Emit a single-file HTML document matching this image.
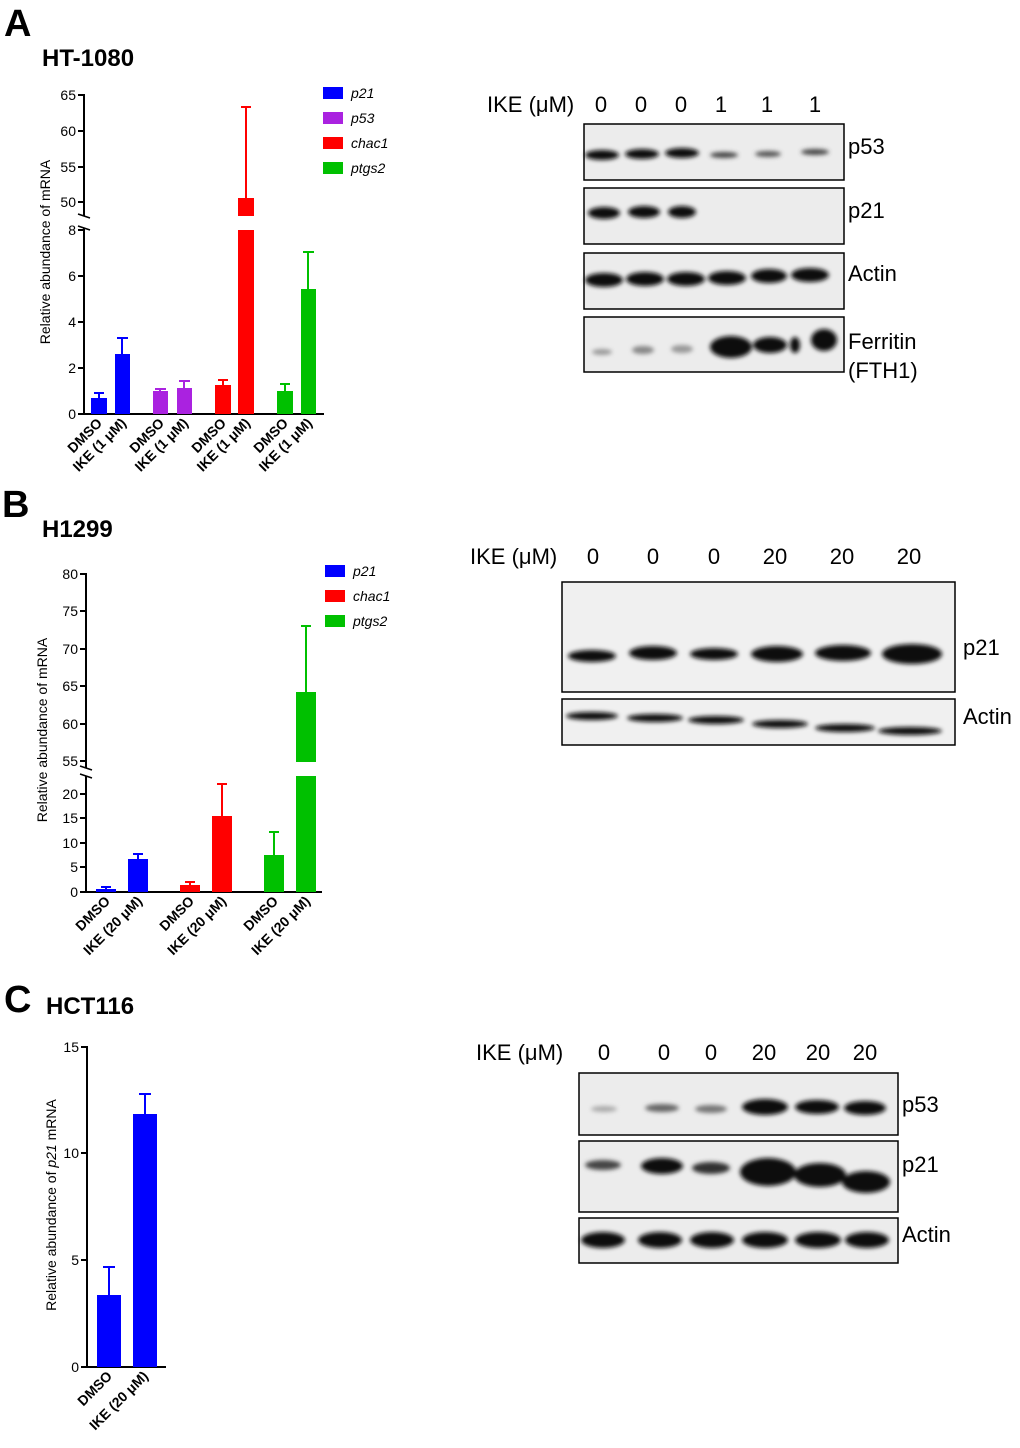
<!DOCTYPE html>
<html><head><meta charset="utf-8"><style>
body{margin:0;background:#fff}
svg{display:block;font-family:"Liberation Sans",Arial,sans-serif}
</style></head><body>
<svg width="1020" height="1448" viewBox="0 0 1020 1448" xmlns="http://www.w3.org/2000/svg">
<defs><filter id="b" x="-20%" y="-100%" width="140%" height="300%"><feGaussianBlur stdDeviation="2.2"/></filter></defs>
<g font-weight="bold" fill="#000">
<text x="4" y="36" font-size="38">A</text><text x="42" y="66" font-size="24">HT-1080</text>
<text x="2" y="517" font-size="38">B</text><text x="42" y="537" font-size="24">H1299</text>
<text x="4" y="1012" font-size="38">C</text><text x="46" y="1014" font-size="24">HCT116</text>
</g>

<!-- Panel A chart -->
<g stroke="#000" stroke-width="2" fill="none">
<path d="M84,94 V216 M84,228 V414 H324"/>
<path d="M78,95 H84 M78,131 H84 M78,167 H84 M78,202 H84 M78,230 H84 M78,276 H84 M78,322 H84 M78,368 H84 M78,414 H84"/>
<path d="M78,214 L90,218 M78,226 L90,230" stroke-width="1.5"/>
</g>
<g font-size="14" text-anchor="end">
<text x="76" y="100">65</text><text x="76" y="136">60</text><text x="76" y="172">55</text><text x="76" y="207">50</text>
<text x="76" y="235">8</text><text x="76" y="281">6</text><text x="76" y="327">4</text><text x="76" y="373">2</text><text x="76" y="419">0</text>
</g>
<text transform="translate(50,252) rotate(-90)" font-size="14" text-anchor="middle">Relative abundance of mRNA</text>
<g stroke-width="2">
<rect x="91" y="398" width="16" height="16" fill="#0000ff"/><path d="M99,398 V393 M94,393 H104" stroke="#0000ff"/>
<rect x="115" y="354" width="15" height="60" fill="#0000ff"/><path d="M122,354 V338 M117,338 H128" stroke="#0000ff"/>
<rect x="153" y="391" width="15" height="23" fill="#aa22e0"/><path d="M160,391 V389 M155,389 H166" stroke="#aa22e0"/>
<rect x="177" y="388" width="15" height="26" fill="#aa22e0"/><path d="M184,388 V381 M179,381 H190" stroke="#aa22e0"/>
<rect x="215" y="385" width="16" height="29" fill="#ff0000"/><path d="M223,385 V380 M218,380 H228" stroke="#ff0000"/>
<rect x="238" y="230" width="16" height="184" fill="#ff0000"/><rect x="238" y="198" width="16" height="18" fill="#ff0000"/><path d="M246,198 V107 M241,107 H251" stroke="#ff0000"/>
<rect x="277" y="391" width="16" height="23" fill="#00c000"/><path d="M285,391 V384 M280,384 H290" stroke="#00c000"/>
<rect x="301" y="289" width="15" height="125" fill="#00c000"/><path d="M308,289 V252 M303,252 H314" stroke="#00c000"/>
</g>
<g font-size="14" font-weight="600" text-anchor="end">
<text transform="translate(103,424) rotate(-45)">DMSO</text><text transform="translate(127,424) rotate(-45)">IKE (1 μM)</text>
<text transform="translate(165,424) rotate(-45)">DMSO</text><text transform="translate(189,424) rotate(-45)">IKE (1 μM)</text>
<text transform="translate(227,424) rotate(-45)">DMSO</text><text transform="translate(251,424) rotate(-45)">IKE (1 μM)</text>
<text transform="translate(289,424) rotate(-45)">DMSO</text><text transform="translate(313,424) rotate(-45)">IKE (1 μM)</text>
</g>
<g font-size="14" font-style="italic">
<rect x="323" y="87" width="20" height="12" fill="#0000ff"/><text x="351" y="98">p21</text>
<rect x="323" y="112" width="20" height="12" fill="#aa22e0"/><text x="351" y="123">p53</text>
<rect x="323" y="137" width="20" height="12" fill="#ff0000"/><text x="351" y="148">chac1</text>
<rect x="323" y="162" width="20" height="12" fill="#00c000"/><text x="351" y="173">ptgs2</text>
</g>

<!-- Blot A -->
<g font-size="22">
<text x="487" y="112">IKE (μM)</text>
<g text-anchor="middle"><text x="601" y="112">0</text><text x="641" y="112">0</text><text x="681" y="112">0</text><text x="721" y="112">1</text><text x="767" y="112">1</text><text x="815" y="112">1</text></g>
<text x="848" y="154">p53</text><text x="848" y="218">p21</text><text x="848" y="281">Actin</text><text x="848" y="349">Ferritin</text><text x="848" y="378">(FTH1)</text>
</g>
<g fill="#ececec" stroke="#000" stroke-width="1.5">
<rect x="584" y="124" width="260" height="56"/><rect x="584" y="188" width="260" height="56"/><rect x="584" y="253" width="260" height="56"/><rect x="584" y="317" width="260" height="55"/>
</g>
<g fill="#111" filter="url(#b)">
<ellipse cx="602" cy="155" rx="17" ry="5"/><ellipse cx="642" cy="154" rx="17" ry="5"/><ellipse cx="682" cy="153" rx="17" ry="5"/><ellipse cx="724" cy="155" rx="14" ry="3" fill="#444"/><ellipse cx="768" cy="154" rx="13" ry="3" fill="#555"/><ellipse cx="815" cy="152" rx="14" ry="3" fill="#444"/>
<ellipse cx="604" cy="213" rx="16" ry="6"/><ellipse cx="644" cy="212" rx="16" ry="6"/><ellipse cx="682" cy="212" rx="14" ry="6"/>
<ellipse cx="604" cy="280" rx="19" ry="7"/><ellipse cx="645" cy="279" rx="19" ry="7"/><ellipse cx="686" cy="279" rx="19" ry="7"/><ellipse cx="727" cy="278" rx="19" ry="7"/><ellipse cx="769" cy="276" rx="18" ry="7"/><ellipse cx="810" cy="275" rx="19" ry="7"/>
<ellipse cx="602" cy="352" rx="10" ry="3" fill="#999"/><ellipse cx="643" cy="350" rx="11" ry="4" fill="#888"/><ellipse cx="682" cy="349" rx="11" ry="4" fill="#999"/><ellipse cx="731" cy="347" rx="21" ry="11"/><ellipse cx="770" cy="345" rx="17" ry="8"/><ellipse cx="795" cy="345" rx="5" ry="8"/><ellipse cx="824" cy="340" rx="13" ry="11"/>
</g>

<!-- Panel B chart -->
<g stroke="#000" stroke-width="2" fill="none">
<path d="M86,573 V768 M86,776 V892 H322"/>
<path d="M80,574 H86 M80,611 H86 M80,649 H86 M80,686 H86 M80,724 H86 M80,761 H86 M80,794 H86 M80,818 H86 M80,843 H86 M80,867 H86 M80,892 H86"/>
<path d="M80,766 L92,770 M80,774 L92,778" stroke-width="1.5"/>
</g>
<g font-size="14" text-anchor="end">
<text x="78" y="579">80</text><text x="78" y="616">75</text><text x="78" y="654">70</text><text x="78" y="691">65</text><text x="78" y="729">60</text><text x="78" y="766">55</text>
<text x="78" y="799">20</text><text x="78" y="823">15</text><text x="78" y="848">10</text><text x="78" y="872">5</text><text x="78" y="897">0</text>
</g>
<text transform="translate(47,730) rotate(-90)" font-size="14" text-anchor="middle">Relative abundance of mRNA</text>
<g stroke-width="2">
<rect x="96" y="889" width="20" height="3" fill="#0000ff"/><path d="M106,889 V887 M101,887 H111" stroke="#0000ff"/>
<rect x="128" y="859" width="20" height="33" fill="#0000ff"/><path d="M138,859 V854 M133,854 H143" stroke="#0000ff"/>
<rect x="180" y="885" width="20" height="7" fill="#ff0000"/><path d="M190,885 V882 M185,882 H195" stroke="#ff0000"/>
<rect x="212" y="816" width="20" height="76" fill="#ff0000"/><path d="M222,816 V784 M217,784 H227" stroke="#ff0000"/>
<rect x="264" y="855" width="20" height="37" fill="#00c000"/><path d="M274,855 V832 M269,832 H279" stroke="#00c000"/>
<rect x="296" y="776" width="20" height="116" fill="#00c000"/><rect x="296" y="692" width="20" height="70" fill="#00c000"/><path d="M306,692 V626 M301,626 H311" stroke="#00c000"/>
</g>
<g font-size="14" font-weight="600" text-anchor="end">
<text transform="translate(111,902) rotate(-45)">DMSO</text><text transform="translate(143,902) rotate(-45)">IKE (20 μM)</text>
<text transform="translate(195,902) rotate(-45)">DMSO</text><text transform="translate(227,902) rotate(-45)">IKE (20 μM)</text>
<text transform="translate(279,902) rotate(-45)">DMSO</text><text transform="translate(311,902) rotate(-45)">IKE (20 μM)</text>
</g>
<g font-size="14" font-style="italic">
<rect x="325" y="565" width="20" height="12" fill="#0000ff"/><text x="353" y="576">p21</text>
<rect x="325" y="590" width="20" height="12" fill="#ff0000"/><text x="353" y="601">chac1</text>
<rect x="325" y="615" width="20" height="12" fill="#00c000"/><text x="353" y="626">ptgs2</text>
</g>

<!-- Blot B -->
<g font-size="22">
<text x="470" y="564">IKE (μM)</text>
<g text-anchor="middle"><text x="593" y="564">0</text><text x="653" y="564">0</text><text x="714" y="564">0</text><text x="775" y="564">20</text><text x="842" y="564">20</text><text x="909" y="564">20</text></g>
<text x="963" y="655">p21</text><text x="963" y="724">Actin</text>
</g>
<g fill="#f0f0f0" stroke="#000" stroke-width="1.5"><rect x="562" y="582" width="393" height="110"/><rect x="562" y="699" width="393" height="46"/></g>
<g fill="#111" filter="url(#b)">
<ellipse cx="592" cy="656" rx="24" ry="6"/><ellipse cx="653" cy="653" rx="24" ry="7"/><ellipse cx="714" cy="654" rx="24" ry="6"/><ellipse cx="777" cy="654" rx="26" ry="8"/><ellipse cx="843" cy="653" rx="28" ry="8"/><ellipse cx="912" cy="654" rx="30" ry="10"/>
<ellipse cx="592" cy="716" rx="26" ry="4"/><ellipse cx="655" cy="718" rx="28" ry="4"/><ellipse cx="716" cy="720" rx="28" ry="4"/><ellipse cx="780" cy="724" rx="28" ry="4"/><ellipse cx="845" cy="728" rx="30" ry="4"/><ellipse cx="910" cy="731" rx="32" ry="4"/>
</g>

<!-- Panel C chart -->
<g stroke="#000" stroke-width="2" fill="none">
<path d="M87,1046 V1367 H166"/>
<path d="M81,1047 H87 M81,1153 H87 M81,1260 H87 M81,1367 H87"/>
</g>
<g font-size="14" text-anchor="end">
<text x="79" y="1052">15</text><text x="79" y="1158">10</text><text x="79" y="1265">5</text><text x="79" y="1372">0</text>
</g>
<text transform="translate(56,1205) rotate(-90)" font-size="14" text-anchor="middle">Relative abundance of <tspan font-style="italic">p21</tspan> mRNA</text>
<g stroke-width="2">
<rect x="97" y="1295" width="24" height="72" fill="#0000ff"/><path d="M109,1295 V1267 M103,1267 H115" stroke="#0000ff"/>
<rect x="133" y="1114" width="24" height="253" fill="#0000ff"/><path d="M145,1114 V1094 M139,1094 H151" stroke="#0000ff"/>
</g>
<g font-size="14" font-weight="600" text-anchor="end">
<text transform="translate(113,1377) rotate(-45)">DMSO</text><text transform="translate(149,1377) rotate(-45)">IKE (20 μM)</text>
</g>

<!-- Blot C -->
<g font-size="22">
<text x="476" y="1060">IKE (μM)</text>
<g text-anchor="middle"><text x="604" y="1060">0</text><text x="664" y="1060">0</text><text x="711" y="1060">0</text><text x="764" y="1060">20</text><text x="818" y="1060">20</text><text x="865" y="1060">20</text></g>
<text x="902" y="1112">p53</text><text x="902" y="1172">p21</text><text x="902" y="1242">Actin</text>
</g>
<g fill="#ececec" stroke="#000" stroke-width="1.5"><rect x="579" y="1073" width="319" height="62"/><rect x="579" y="1141" width="319" height="71"/><rect x="579" y="1218" width="319" height="45"/></g>
<g fill="#111" filter="url(#b)">
<ellipse cx="604" cy="1109" rx="13" ry="3" fill="#aaa"/><ellipse cx="662" cy="1108" rx="17" ry="4" fill="#666"/><ellipse cx="711" cy="1109" rx="16" ry="4" fill="#777"/><ellipse cx="765" cy="1107" rx="23" ry="8"/><ellipse cx="817" cy="1107" rx="22" ry="7"/><ellipse cx="865" cy="1108" rx="21" ry="7"/>
<ellipse cx="603" cy="1165" rx="18" ry="5" fill="#444"/><ellipse cx="662" cy="1166" rx="21" ry="8"/><ellipse cx="711" cy="1168" rx="19" ry="6" fill="#333"/><ellipse cx="768" cy="1172" rx="28" ry="14"/><ellipse cx="820" cy="1175" rx="26" ry="12"/><ellipse cx="866" cy="1182" rx="24" ry="11"/>
<ellipse cx="603" cy="1240" rx="22" ry="8"/><ellipse cx="660" cy="1240" rx="22" ry="8"/><ellipse cx="712" cy="1240" rx="22" ry="8"/><ellipse cx="765" cy="1240" rx="23" ry="8"/><ellipse cx="818" cy="1240" rx="23" ry="8"/><ellipse cx="867" cy="1240" rx="22" ry="8"/>
</g>
</svg>
</body></html>
